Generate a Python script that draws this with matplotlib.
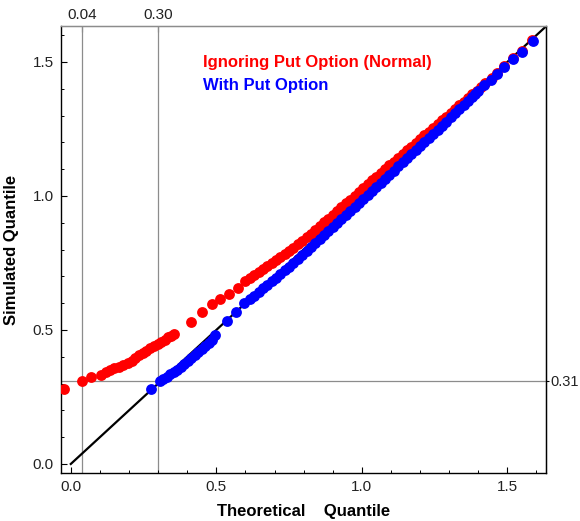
import matplotlib
matplotlib.use("Agg")
import matplotlib.pyplot as plt
from matplotlib.ticker import MultipleLocator, FormatStrFormatter

plt.rcParams['font.family'] = ['Liberation Sans', 'DejaVu Sans']

# ---- data ----
red_x = [-0.024, 0.037, 0.071, 0.103, 0.120, 0.135, 0.150, 0.165, 0.180, 0.195,
         0.210, 0.222, 0.235, 0.247, 0.260, 0.272, 0.285, 0.298, 0.310, 0.322,
         0.333, 0.344, 0.354,
         0.412, 0.452, 0.486, 0.514, 0.543, 0.575, 0.600,
         0.615, 0.630, 0.645, 0.660, 0.675, 0.690, 0.705, 0.720, 0.735, 0.750,
         0.765, 0.780, 0.795, 0.810, 0.825, 0.840, 0.855, 0.870, 0.885, 0.900,
         0.915, 0.930, 0.945, 0.960, 0.975, 0.990, 1.005, 1.020, 1.035, 1.050,
         1.065, 1.080, 1.095, 1.110, 1.125, 1.140, 1.155, 1.170, 1.185, 1.200,
         1.215, 1.230, 1.245, 1.260, 1.275, 1.290, 1.305, 1.320, 1.335, 1.350,
         1.365, 1.380, 1.395, 1.410,
         1.423, 1.446, 1.466, 1.487, 1.518, 1.549, 1.586]
red_y = [0.280, 0.310, 0.325, 0.332, 0.342, 0.350, 0.357, 0.363, 0.370, 0.377,
         0.386, 0.395, 0.405, 0.414, 0.423, 0.431, 0.439, 0.447, 0.455, 0.464,
         0.472, 0.479, 0.486,
         0.531, 0.567, 0.598, 0.615, 0.633, 0.657, 0.682,
         0.693, 0.704, 0.715, 0.726, 0.737, 0.748, 0.760, 0.772, 0.783, 0.795,
         0.807, 0.820, 0.833, 0.846, 0.859, 0.873, 0.887, 0.901, 0.915, 0.929,
         0.943, 0.958, 0.972, 0.986, 1.001, 1.015, 1.029, 1.044, 1.058, 1.072,
         1.086, 1.100, 1.114, 1.128, 1.142, 1.156, 1.170, 1.184, 1.198, 1.212,
         1.226, 1.240, 1.254, 1.268, 1.282, 1.296, 1.310, 1.324, 1.338, 1.352,
         1.366, 1.379, 1.392, 1.405,
         1.420, 1.439, 1.459, 1.486, 1.515, 1.542, 1.581]

blue_x = [0.275, 0.306, 0.318, 0.330, 0.342, 0.354, 0.366, 0.378, 0.390, 0.402,
          0.414, 0.426, 0.438, 0.450, 0.462, 0.474, 0.486, 0.497,
          0.537, 0.569, 0.596,
          0.615, 0.630, 0.645, 0.660, 0.675, 0.690, 0.705, 0.720, 0.735, 0.750,
          0.765, 0.780, 0.795, 0.810, 0.825, 0.840, 0.855, 0.870, 0.885, 0.900,
          0.915, 0.930, 0.945, 0.960, 0.975, 0.990, 1.005, 1.020, 1.035, 1.050,
          1.065, 1.080, 1.095, 1.110, 1.125, 1.140, 1.155, 1.170, 1.185, 1.200,
          1.215, 1.230, 1.245, 1.260, 1.275, 1.290, 1.305, 1.320, 1.335, 1.350,
          1.365, 1.380, 1.390,
          1.400, 1.420, 1.443, 1.465, 1.488, 1.518, 1.549, 1.588]
blue_y = [0.279, 0.311, 0.318, 0.326, 0.334, 0.343, 0.352, 0.362, 0.372, 0.383,
          0.394, 0.405, 0.417, 0.428, 0.440, 0.452, 0.464, 0.480,
          0.533, 0.567, 0.599,
          0.614, 0.628, 0.641, 0.655, 0.668, 0.681, 0.695, 0.708, 0.722, 0.736,
          0.750, 0.765, 0.780, 0.795, 0.810, 0.825, 0.840, 0.855, 0.870, 0.885,
          0.900, 0.915, 0.930, 0.945, 0.960, 0.975, 0.990, 1.005, 1.020, 1.035,
          1.050, 1.065, 1.080, 1.095, 1.110, 1.125, 1.140, 1.155, 1.170, 1.185,
          1.200, 1.215, 1.231, 1.246, 1.262, 1.277, 1.293, 1.308, 1.324, 1.339,
          1.355, 1.370, 1.382,
          1.393, 1.414, 1.433, 1.455, 1.481, 1.511, 1.538, 1.578]

ref_x = [0.04, 0.30]
ref_x_labels = ["0.04", "0.30"]
ref_y = [0.31]
ref_y_labels = ["0.31"]
legend_labels = ["Ignoring Put Option (Normal)", "With Put Option"]

# ---- figure ----
fig = plt.figure(figsize=(5.8, 5.21), dpi=100)
ax = fig.add_axes([0.105, 0.092, 0.836, 0.858])
ax.set_xlim(-0.034, 1.632)
ax.set_ylim(-0.034, 1.634)

grid_col = '#8c8c8c'
for v in ref_x:
    ax.axvline(v, color=grid_col, lw=0.9, zorder=1)
for v in ref_y:
    ax.axhline(v, color=grid_col, lw=0.9, zorder=1)

ax.plot([0, 1.7], [0, 1.7], color='black', lw=1.6, zorder=2)

ax.plot(red_x, red_y, 'o', color='#ff0000', ms=7.8, mew=0, zorder=3)
ax.plot(blue_x, blue_y, 'o', color='#0000ff', ms=7.8, mew=0, zorder=4)

ax.xaxis.set_major_locator(MultipleLocator(0.5))
ax.xaxis.set_minor_locator(MultipleLocator(0.1))
ax.yaxis.set_major_locator(MultipleLocator(0.5))
ax.yaxis.set_minor_locator(MultipleLocator(0.1))
ax.xaxis.set_major_formatter(FormatStrFormatter('%.1f'))
ax.yaxis.set_major_formatter(FormatStrFormatter('%.1f'))
ax.tick_params(which='both', direction='in', top=False, right=False,
               labelsize=11, colors='black', labelcolor='#222222')
ax.tick_params(which='major', length=4.5, width=0.8, pad=5)
ax.tick_params(which='minor', length=2.5, width=0.7)

for s in ['left', 'bottom', 'right']:
    ax.spines[s].set_color('black')
    ax.spines[s].set_linewidth(1.0)
ax.spines['top'].set_color('#8c8c8c')
ax.spines['top'].set_linewidth(1.0)

# top axis
axt = ax.secondary_xaxis('top')
axt.set_xticks(ref_x)
axt.set_xticklabels(ref_x_labels)
axt.tick_params(direction='in', length=4, width=0.8, labelsize=11, pad=3,
                labelcolor='#222222')
axt.spines['top'].set_color('#8c8c8c')

# right axis
axr = ax.secondary_yaxis('right')
axr.set_yticks(ref_y)
axr.set_yticklabels(ref_y_labels)
axr.tick_params(direction='out', length=2, width=0.8, labelsize=10.5, pad=1,
                labelcolor='#222222')

ax.set_xlabel("Theoretical    Quantile", fontsize=12, fontweight='bold', labelpad=7)
ax.set_ylabel("Simulated Quantile", fontsize=12, fontweight='bold', labelpad=10)

ax.text(0.293, 0.919, legend_labels[0], transform=ax.transAxes, color='#ff0000',
        fontsize=12, fontweight='bold', va='center', ha='left')
ax.text(0.293, 0.868, legend_labels[1], transform=ax.transAxes, color='#0000ff',
        fontsize=12, fontweight='bold', va='center', ha='left')

fig.savefig("out.png", dpi=100)
